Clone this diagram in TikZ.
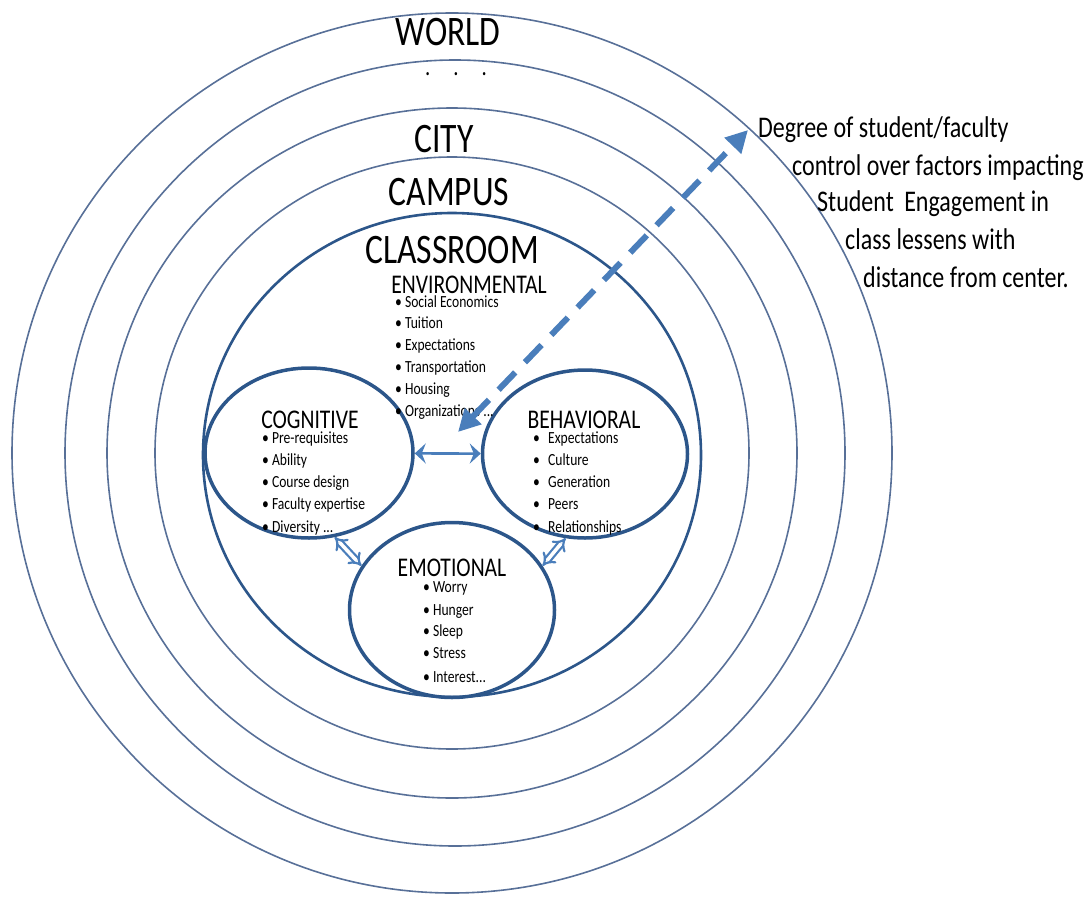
\documentclass[tikz,border=0pt]{standalone}
\usepackage{fontspec}
\setmainfont{Carlito}[FakeStretch=0.8]
\usepackage{tikz}
\usetikzlibrary{shapes.geometric,arrows.meta}

\definecolor{ringblue}{RGB}{88,112,152}
\definecolor{rimblue}{RGB}{44,86,138}
\definecolor{arrowblue}{RGB}{74,126,187}

\tikzset{
  ring/.style={draw=ringblue, line width=1.6pt},
  factor/.style={ellipse, draw=rimblue, line width=3.5pt, inner sep=0pt},
  level/.style={anchor=base, inner sep=0pt, font=\fontsize{42}{50}\selectfont},
  head/.style={anchor=base, inner sep=0pt, font=\fontsize{27}{32}\selectfont},
  item/.style={anchor=base west, inner sep=0pt, font=\fontsize{17}{20}\selectfont},
  note/.style={anchor=base west, inner sep=0pt, font=\fontsize{30}{36}\selectfont},
  linkarrow/.style={draw=arrowblue, line width=2.6pt, {Stealth[length=11pt,width=20pt,inset=4pt]}-{Stealth[length=11pt,width=20pt,inset=4pt]}},
  blockarrow/.style={draw=arrowblue, line width=2.2pt, double=white, double distance=3.5pt, {Implies}-{Implies}},
  reacharrow/.style={draw=arrowblue, line width=6pt, dash pattern=on 24pt off 14pt, {Triangle[length=22pt,width=22pt]}-{Triangle[length=22pt,width=22pt]}}
}

\begin{document}
\begin{tikzpicture}[x=1pt,y=-1pt]
\useasboundingbox (0,0) rectangle (1091,902);% frame of the figure, 1pt = 1px
\draw [ring] (452,453) ellipse [x radius=440, y radius=440];% world
\draw [ring] (455,453) ellipse [x radius=390, y radius=393];% ...
\draw [ring] (452,453) ellipse [x radius=345, y radius=345];% city
\draw [ring] (452,453) ellipse [x radius=297, y radius=296];% campus
\draw [draw=rimblue, line width=2.6pt] (452,455) ellipse [x radius=249, y radius=242];% classroom
\node[factor, minimum width=208pt, minimum height=170pt] (cog) at (309,453) {};% cognitive
\node[factor, minimum width=205pt, minimum height=168pt] (beh) at (585,454) {};% behavioral
\node[factor, minimum width=205pt, minimum height=175pt] (emo) at (452,610) {};% emotional
\node[level] (world) at (448,45) {WORLD};
\node[anchor=base, font=\fontsize{26}{30}\selectfont] (dots) at (456,75) {.\hspace{23pt}.\hspace{23pt}.};
\node[level] (city) at (444,152) {CITY};
\node[level] (campus) at (449,205) {CAMPUS};
\node[level] (classroom) at (452,263) {CLASSROOM};
\node[head] (envhead) at (469,293) {ENVIRONMENTAL};
\node[item] (env1) at (395,307) {• Social Economics};
\node[item] (env2) at (395,328) {• Tuition};
\node[item] (env3) at (395,350) {• Expectations};
\node[item] (env4) at (395,372) {• Transportation};
\node[item] (env5) at (395,394) {• Housing};
\node[item] (env6) at (395,416) {• Organizations ...};
\node[head] (coghead) at (310,428) {COGNITIVE};
\node[item] (cog1) at (262,443) {• Pre-requisites};
\node[item] (cog2) at (262,465) {• Ability};
\node[item] (cog3) at (262,487) {• Course design};
\node[item] (cog4) at (262,509) {• Faculty expertise};
\node[item] (cog5) at (262,532) {• Diversity ...};
\node[head] (behhead) at (584,428) {BEHAVIORAL};
\node[item] (beh1) at (533,443) {\makebox[15pt][l]{•}Expectations};
\node[item] (beh2) at (533,465) {\makebox[15pt][l]{•}Culture};
\node[item] (beh3) at (533,487) {\makebox[15pt][l]{•}Generation};
\node[item] (beh4) at (533,509) {\makebox[15pt][l]{•}Peers};
\node[item] (beh5) at (533,532) {\makebox[15pt][l]{•}Relationships};
\node[head] (emohead) at (452,576) {EMOTIONAL};
\node[item] (emo1) at (423,592) {• Worry};
\node[item] (emo2) at (423,615) {• Hunger};
\node[item] (emo3) at (423,636) {• Sleep};
\node[item] (emo4) at (423,658) {• Stress};
\node[item] (emo5) at (423,682) {• Interest...};
\node[note] (note1) at (758,137) {Degree of student/faculty};
\node[note] (note2) at (792,175) {control over factors impacting};
\node[note] (note3) at (817,211) {Student\, Engagement in};
\node[note] (note4) at (845,249) {class lessens with};
\node[note] (note5) at (863,287) {distance from center.};
\draw [linkarrow] (cog) -- (beh);% cognitive <-> behavioral
\draw [blockarrow] (cog.-73) -- (emo.154);% cognitive <-> emotional
\draw [blockarrow] (beh.-103) -- (emo.26);% behavioral <-> emotional
\coordinate (inner) at (458,432);% tip in the classroom
\coordinate (outer) at (748,130);% tip at the world ring
\draw [reacharrow] (inner) -- (outer);
\end{tikzpicture}
\end{document}
